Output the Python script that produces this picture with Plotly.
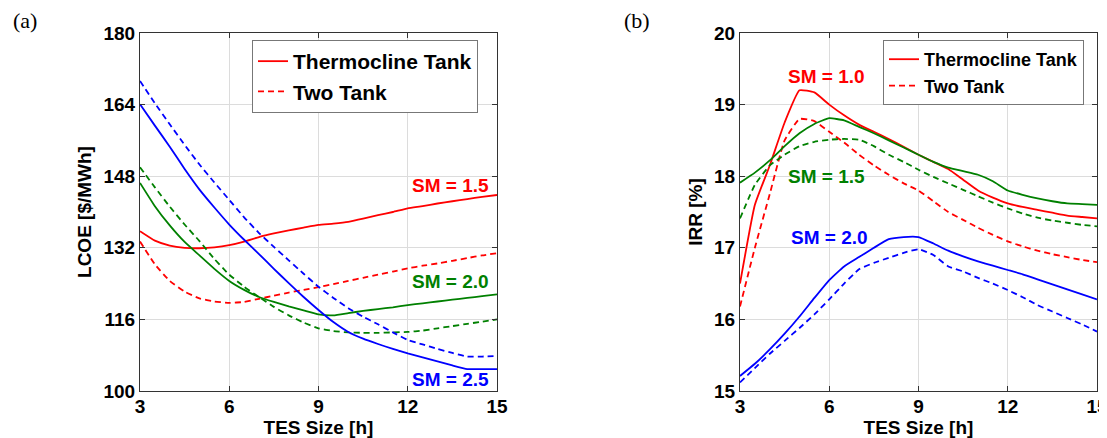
import plotly.graph_objects as go

# ---------------- data ----------------
tes_hours = [3, 3.5, 4, 4.5, 5, 5.5, 6, 6.5, 7, 7.5, 8, 8.5, 9, 9.5, 10,
             10.5, 11, 11.5, 12, 12.5, 13, 13.5, 14, 14.5, 15]

# (a) LCOE [$/MWh]
lcoe_tc_sm15 = [135.7, 133.6, 132.5, 132.0, 131.9, 132.1, 132.6, 133.4, 134.4, 135.2, 135.9, 136.5, 137.1,
                137.4, 137.8, 138.5, 139.3, 140.0, 140.8, 141.3, 141.9, 142.4, 142.9, 143.4, 143.8]
lcoe_2t_sm15 = [133.4, 128.3, 124.6, 122.2, 120.7, 120.0, 119.7, 119.9, 120.6, 121.3, 122.0, 122.6, 123.2,
                123.9, 124.6, 125.3, 126.0, 126.7, 127.4, 128.0, 128.5, 129.1, 129.7, 130.3, 130.8]
lcoe_tc_sm20 = [146.5, 141.3, 137.0, 133.3, 130.3, 127.3, 124.6, 122.6, 121.0, 119.9, 118.9, 118.0, 117.1,
                116.9, 117.4, 117.9, 118.3, 118.7, 119.2, 119.6, 120.0, 120.4, 120.8, 121.2, 121.6]
lcoe_2t_sm20 = [150.0, 145.5, 141.2, 137.2, 133.5, 129.5, 126.0, 123.3, 121.0, 118.8, 116.9, 115.3, 114.0,
                113.4, 113.1, 113.0, 113.0, 113.1, 113.2, 113.5, 114.0, 114.5, 115.0, 115.5, 116.0]
lcoe_tc_sm25 = [164.1, 159.3, 154.6, 149.6, 145.0, 141.0, 137.2, 133.8, 130.6, 127.3, 124.1, 121.0, 118.1,
                115.4, 113.2, 111.7, 110.5, 109.4, 108.4, 107.5, 106.6, 105.7, 104.9, 104.9, 104.9]
lcoe_2t_sm25 = [169.3, 164.3, 159.6, 155.0, 150.6, 146.6, 142.7, 138.8, 135.3, 132.2, 129.2, 126.2, 123.3,
                120.8, 118.5, 116.6, 114.9, 113.1, 111.4, 110.4, 109.4, 108.5, 107.7, 107.7, 107.8]

# (b) IRR [%]
irr_tc_sm10 = [16.5, 17.6, 18.15, 18.75, 19.2, 19.17, 19.0, 18.85, 18.72, 18.62, 18.52, 18.41, 18.3,
               18.2, 18.1, 17.95, 17.8, 17.7, 17.62, 17.57, 17.53, 17.49, 17.45, 17.43, 17.41]
irr_2t_sm10 = [16.18, 17.0, 17.75, 18.5, 18.8, 18.77, 18.62, 18.47, 18.3, 18.15, 18.02, 17.9, 17.8,
               17.65, 17.5, 17.39, 17.28, 17.18, 17.09, 17.02, 16.96, 16.91, 16.87, 16.83, 16.8]
irr_tc_sm15 = [17.91, 18.05, 18.22, 18.42, 18.6, 18.73, 18.81, 18.78, 18.69, 18.6, 18.5, 18.4, 18.3,
               18.2, 18.12, 18.07, 18.02, 17.93, 17.8, 17.74, 17.69, 17.65, 17.62, 17.61, 17.6]
irr_2t_sm15 = [17.41, 17.88, 18.15, 18.3, 18.42, 18.48, 18.51, 18.52, 18.51, 18.42, 18.3, 18.2, 18.09,
               17.99, 17.9, 17.81, 17.72, 17.63, 17.55, 17.48, 17.42, 17.38, 17.35, 17.32, 17.3]
irr_tc_sm20 = [15.21, 15.38, 15.58, 15.8, 16.04, 16.3, 16.55, 16.74, 16.87, 17.0, 17.12, 17.15, 17.15,
               17.06, 16.96, 16.88, 16.81, 16.75, 16.69, 16.63, 16.56, 16.49, 16.42, 16.35, 16.28]
irr_2t_sm20 = [15.12, 15.32, 15.52, 15.7, 15.88, 16.07, 16.28, 16.5, 16.7, 16.79, 16.86, 16.93, 16.98,
               16.9, 16.74, 16.67, 16.58, 16.5, 16.41, 16.31, 16.2, 16.11, 16.02, 15.93, 15.83]

x_ticks = [3, 6, 9, 12, 15]
lcoe_ticks = [100, 116, 132, 148, 164, 180]
irr_ticks = [15, 16, 17, 18, 19, 20]

RED, GREEN, BLUE = "#ff0000", "#008000", "#0000ff"
OFF = 8  # page body margin of the html document
W, H = 1107, 438 - OFF
FONT = "Liberation Sans"

fig = go.Figure()

def add(x, y, color, dash, xa, ya, name=None, legend=None):
    fig.add_trace(go.Scatter(
        x=x, y=y, mode="lines", xaxis=xa, yaxis=ya,
        line=dict(color=color, width=1.8, dash="6px,4px" if dash else "solid",
                  shape="spline", smoothing=0.4),
        name=name or "", showlegend=name is not None,
        legend=legend or "legend", hoverinfo="skip"))

# panel (a)
add(tes_hours, lcoe_tc_sm15, RED, False, "x", "y", "Thermocline Tank", "legend")
add(tes_hours, lcoe_2t_sm15, RED, True, "x", "y", "Two Tank", "legend")
add(tes_hours, lcoe_tc_sm20, GREEN, False, "x", "y")
add(tes_hours, lcoe_2t_sm20, GREEN, True, "x", "y")
add(tes_hours, lcoe_tc_sm25, BLUE, False, "x", "y")
add(tes_hours, lcoe_2t_sm25, BLUE, True, "x", "y")
# panel (b)
add(tes_hours, irr_tc_sm10, RED, False, "x2", "y2", "Thermocline Tank", "legend2")
add(tes_hours, irr_2t_sm10, RED, True, "x2", "y2", "Two Tank", "legend2")
add(tes_hours, irr_tc_sm15, GREEN, False, "x2", "y2")
add(tes_hours, irr_2t_sm15, GREEN, True, "x2", "y2")
add(tes_hours, irr_tc_sm20, BLUE, False, "x2", "y2")
add(tes_hours, irr_2t_sm20, BLUE, True, "x2", "y2")

def px_x(p):
    return (p - OFF) / W

def px_y(p):
    return 1 - (p - OFF) / H

tick_font = dict(family=FONT, size=19, color="black", weight="bold")
axis_common = dict(showline=True, mirror="ticks", linecolor="#333333", linewidth=1,
                   ticks="inside", ticklen=5, tickcolor="#333333",
                   showgrid=True, gridcolor="#dcdcdc", gridwidth=1,
                   zeroline=False, tickfont=tick_font, automargin=False,
                   ticklabeloverflow="allow")

title_font = dict(family=FONT, size=19, color="black", weight="bold")

fig.update_layout(
    width=W, height=H, margin=dict(l=0, r=0, t=0, b=0, autoexpand=False),
    paper_bgcolor="white", plot_bgcolor="white",
    xaxis=dict(domain=[px_x(140), px_x(497)], range=[3, 15], tickvals=x_ticks,
               title=dict(text="TES Size [h]", font=title_font, standoff=0),
               anchor="y", ticklabelstandoff=-2, **axis_common),
    yaxis=dict(domain=[px_y(391), px_y(33)], range=[100, 180], tickvals=lcoe_ticks,
               title=dict(text="LCOE [$/MWh]", font=title_font, standoff=6),
               anchor="x", **axis_common),
    xaxis2=dict(domain=[px_x(740), px_x(1097)], range=[3, 15], tickvals=x_ticks,
                title=dict(text="TES Size [h]", font=title_font, standoff=0),
                anchor="y2", ticklabelstandoff=-2, **axis_common),
    yaxis2=dict(domain=[px_y(391), px_y(33)], range=[15, 20], tickvals=irr_ticks,
                title=dict(text="IRR [%]", font=title_font, standoff=6),
                anchor="x2", **axis_common),
    legend=dict(x=px_x(252), y=px_y(40), xanchor="left", yanchor="top",
                bgcolor="white", bordercolor="#777777", borderwidth=1,
                font=dict(family=FONT, size=21, color="black", weight="bold"),
                itemwidth=30, tracegroupgap=0),
    legend2=dict(x=px_x(883), y=px_y(40), xanchor="left", yanchor="top",
                 bgcolor="white", bordercolor="#777777", borderwidth=1,
                 font=dict(family=FONT, size=18, color="black", weight="bold"),
                 itemwidth=30, tracegroupgap=0),
    showlegend=True,
)

lab_font = lambda c: dict(family=FONT, size=19, color=c, weight="bold")
labels = [
    # text, color, xref, yref, x(data), y(data)
    ("SM = 1.5", RED, "x", "y", 13.45, 146.0),
    ("SM = 2.0", GREEN, "x", "y", 13.45, 124.4),
    ("SM = 2.5", BLUE, "x", "y", 13.45, 102.5),
    ("SM = 1.0", RED, "x2", "y2", 5.9, 19.39),
    ("SM = 1.5", GREEN, "x2", "y2", 5.9, 17.99),
    ("SM = 2.0", BLUE, "x2", "y2", 6.0, 17.14),
]
for t, c, xr, yr, xv, yv in labels:
    fig.add_annotation(text=t, x=xv, y=yv, xref=xr, yref=yr, showarrow=False,
                       font=lab_font(c), xanchor="center", yanchor="middle")

for t, xp in [("(a)", 25), ("(b)", 637)]:
    fig.add_annotation(text=t, x=px_x(xp), y=px_y(21), xref="paper", yref="paper",
                       showarrow=False, xanchor="center", yanchor="middle",
                       font=dict(family="Liberation Serif", size=22, color="black"))

fig.write_html("out.html")
